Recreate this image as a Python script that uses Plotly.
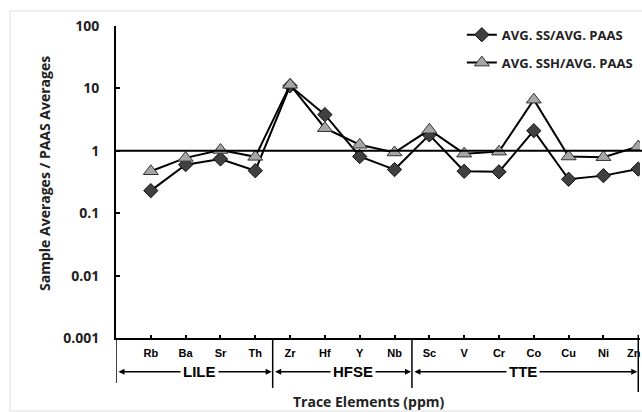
import plotly.graph_objects as go

elements = ["Rb", "Ba", "Sr", "Th", "Zr", "Hf", "Y", "Nb", "Sc", "V", "Cr", "Co", "Cu", "Ni", "Zn"]
ss_paas = [0.23, 0.60, 0.74, 0.48, 11.0, 3.8, 0.81, 0.50, 1.8, 0.47, 0.46, 2.1, 0.35, 0.40, 0.51]
ssh_paas = [0.47, 0.77, 1.03, 0.80, 11.4, 2.3, 1.25, 0.94, 2.17, 0.90, 0.97, 6.6, 0.81, 0.79, 1.17]
groups = ["LILE", "HFSE", "TTE"]
group_bounds = [(-1, 3.5), (3.5, 7.5), (7.5, 14.0)]
group_label_x = [1.41, 5.81, 10.68]

xi = list(range(len(elements)))
FONT = "Open Sans"

fig = go.Figure()
fig.add_trace(go.Scatter(
    x=xi, y=ss_paas, mode="lines+markers", name="AVG. SS/AVG. PAAS", legendgroup="a",
    line=dict(color="black", width=2),
    marker=dict(symbol="diamond", size=11, color="#404040", line=dict(color="#111111", width=1)),
))
fig.add_trace(go.Scatter(
    x=xi, y=ssh_paas, mode="lines+markers", name="AVG. SSH/AVG. PAAS", legendgroup="b",
    line=dict(color="black", width=2),
    marker=dict(symbol="triangle-up", size=13, color="#a6a6a6", line=dict(color="#333333", width=1)),
))

shapes = []
# reference line at 1
shapes.append(dict(type="line", xref="paper", yref="y", x0=0, x1=1.01, y0=1, y1=1,
                   line=dict(color="black", width=2)))
# faint chart border
shapes.append(dict(type="rect", xref="paper", yref="paper", x0=-0.2023, x1=1.05, y0=-0.234, y1=1.048,
                   line=dict(color="#dddddd", width=1), layer="below"))
# vertical dividers
for xv, yb in [(-1, -0.144), (3.5, -0.16), (7.5, -0.16), (14.0, -0.173)]:
    shapes.append(dict(type="line", xref="x", yref="paper", x0=xv, x1=xv, y0=0, y1=yb,
                       line=dict(color="black", width=1.5)))
# tick mark for the last category
shapes.append(dict(type="line", xref="x", yref="paper", x0=xi[-1], x1=xi[-1], y0=0, y1=0.01,
                   line=dict(color="black", width=1.5)))

annotations = []
arrow_y = -0.108
for (a, b), g, gx in zip(group_bounds, groups, group_label_x):
    annotations.append(dict(x=b, y=arrow_y, xref="x", yref="paper", ax=a, ay=0,
                            axref="x", ayref="pixel", text="", showarrow=True,
                            arrowhead=2, startarrowhead=2, arrowside="end+start",
                            arrowsize=0.8, arrowwidth=1.5, arrowcolor="black",
                            standoff=1, startstandoff=1))
    annotations.append(dict(x=gx, y=arrow_y, xref="x", yref="paper", text="<b>%s</b>" % g,
                            showarrow=False, bgcolor="white",
                            font=dict(family="Liberation Sans", size=15, color="black"),
                            xanchor="center", yanchor="middle", borderpad=2))

# last category label, kept just inside the right edge
annotations.append(dict(x=xi[-1], y=0, xref="x", yref="paper", yshift=-7, xshift=-4,
                        text="<b>%s</b>" % elements[-1], showarrow=False,
                        xanchor="center", yanchor="top",
                        font=dict(family="Liberation Sans", size=11, color="black")))

annotations.append(dict(x=-0.1355, y=0.529, xref="paper", yref="paper",
                        text="<b>Sample Averages / PAAS Averages</b>", textangle=-90,
                        xanchor="center", yanchor="middle",
                        showarrow=False, font=dict(family=FONT, size=14, color="#222222")))
annotations.append(dict(x=0.483, y=-0.205, xref="paper", yref="paper",
                        text="<b>Trace Elements (ppm)</b>", xanchor="center", yanchor="middle",
                        showarrow=False, font=dict(family=FONT, size=14, color="#222222")))

fig.update_layout(
    width=642, height=412,
    margin=dict(l=116, r=2, t=26, b=74, autoexpand=False),
    paper_bgcolor="white", plot_bgcolor="white",
    showlegend=True,
    legend=dict(x=0.66, y=1.02, xanchor="left", yanchor="top",
                font=dict(family=FONT, size=13, color="#222222", weight="bold"),
                bgcolor="rgba(0,0,0,0)", tracegroupgap=8, itemwidth=30,
                traceorder="grouped"),
    shapes=shapes, annotations=annotations,
)
fig.update_xaxes(
    range=[-1, 14.05], tickmode="array", tickvals=xi[:-1],
    ticktext=["<b>%s</b>" % e for e in elements[:-1]],
    tickfont=dict(family="Liberation Sans", size=11, color="black"),
    showgrid=False, zeroline=False, showline=True, linecolor="black", linewidth=2,
    ticks="inside", ticklen=3, tickwidth=1.5, tickcolor="black", ticklabelstandoff=4,
)
fig.update_yaxes(
    type="log", range=[-3, 2], tickmode="array",
    tickvals=[0.001, 0.01, 0.1, 1, 10, 100],
    ticktext=["<b>0.001</b>", "<b>0.01</b>", "<b>0.1</b>", "<b>1</b>", "<b>10</b>", "<b>100</b>"],
    tickfont=dict(family=FONT, size=14, color="#222222"),
    showgrid=False, zeroline=False, showline=True, linecolor="black", linewidth=2,
    ticks="inside", ticklen=4, tickwidth=1.5, tickcolor="black", ticklabelstandoff=12,
)

fig.write_html("out.html")
